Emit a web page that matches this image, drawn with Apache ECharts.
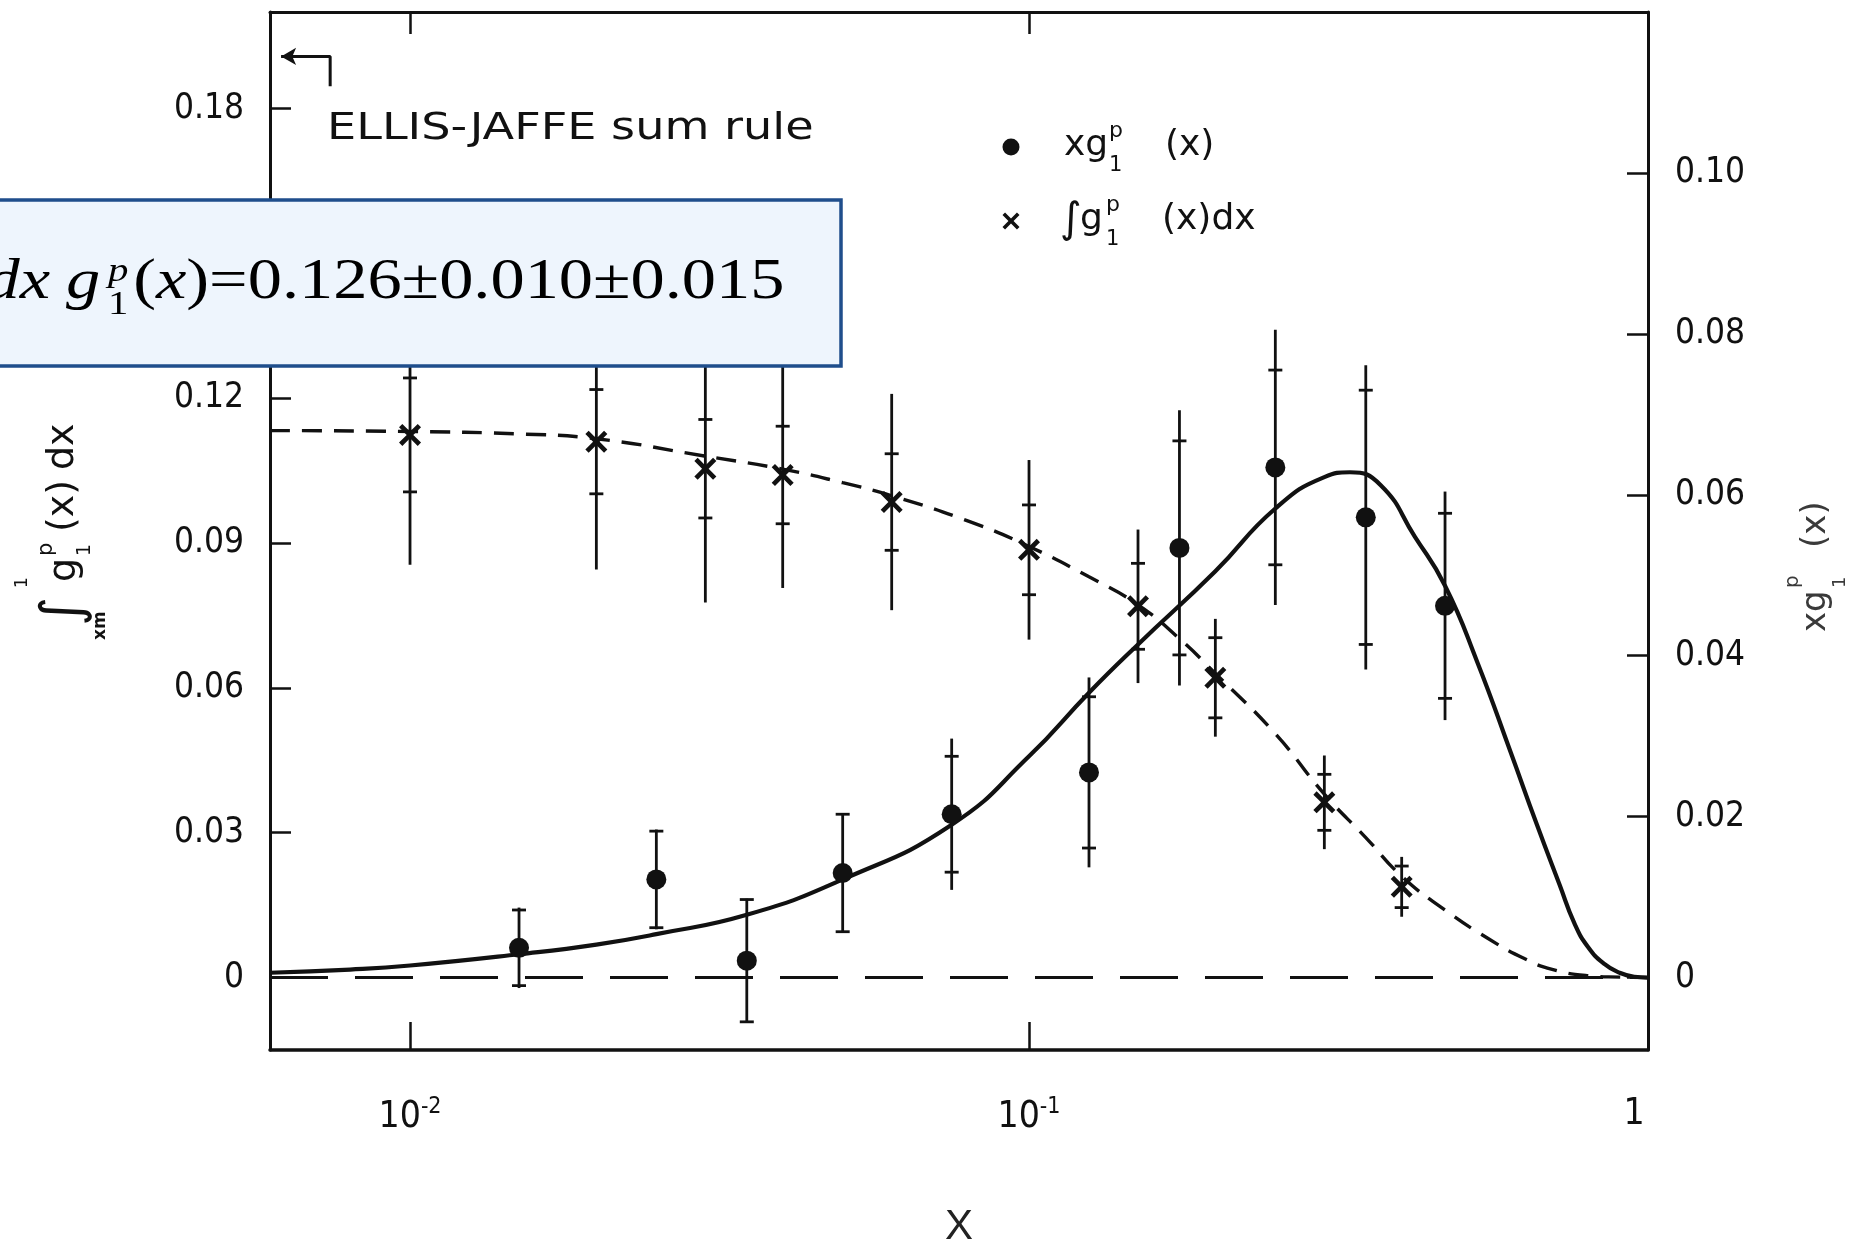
<!DOCTYPE html>
<html><head><meta charset="utf-8">
<script src="https://cdn.jsdelivr.net/npm/echarts@6/dist/echarts.min.js"></script>
<style>html,body{margin:0;padding:0;background:#fff;}#chart{width:1863px;height:1246px;}</style>
</head><body><div id="chart"></div>
<script>
// ---------- axis ranges ----------
const X_MIN = 0.00594, X_MAX = 1;
const LEFT_MIN = -0.015, LEFT_MAX = 0.2;
const RIGHT_MIN = -0.009, RIGHT_MAX = 0.12;
const leftTicks = [0, 0.03, 0.06, 0.09, 0.12, 0.15, 0.18];
const rightTicks = [0, 0.02, 0.04, 0.06, 0.08, 0.10];

// ---------- x g1p(x) data points (right axis) ----------
const xgX    = [0.015, 0.025, 0.035, 0.05, 0.075, 0.125, 0.175, 0.25, 0.35, 0.47];
const xgVal  = [0.0037, 0.0122, 0.0021, 0.0130, 0.0203, 0.0255, 0.0534, 0.0634, 0.0572, 0.0462];
const xgStat = [0.0047, 0.0060, 0.0076, 0.0073, 0.0072, 0.0094, 0.0133, 0.0121, 0.0158, 0.0115];
const xgTot  = [0.0050, 0.0062, 0.0077, 0.0074, 0.0094, 0.0118, 0.0171, 0.0171, 0.0189, 0.0142];

// ---------- integral data points (left axis) ----------
const intX    = [0.01, 0.02, 0.03, 0.04, 0.06, 0.1, 0.15, 0.2, 0.3, 0.4];
const intVal  = [0.1124, 0.1110, 0.1054, 0.1041, 0.0985, 0.0886, 0.0769, 0.0621, 0.0363, 0.0188];
const intStat = [0.0118, 0.0108, 0.0102, 0.0101, 0.0100, 0.0093, 0.0089, 0.0083, 0.0058, 0.0043];
const intTot  = [0.0269, 0.0265, 0.0277, 0.0234, 0.0224, 0.0186, 0.0159, 0.0122, 0.0097, 0.0062];

// ---------- fit curve x g1p(x) (solid, right axis) ----------
const fitX = [0.00594, 0.008, 0.01, 0.015, 0.02, 0.025, 0.035, 0.05, 0.075, 0.1, 0.125, 0.15, 0.2, 0.25, 0.3, 0.33, 0.37, 0.42, 0.47, 0.53, 0.6, 0.66, 0.72, 0.76, 0.8, 0.85, 0.9, 0.95, 1.0];
const fitY = [0.0006, 0.0010, 0.0015, 0.0029, 0.0041, 0.0054, 0.0078, 0.0122, 0.0190, 0.0275, 0.0354, 0.0414, 0.0505, 0.0583, 0.0622, 0.0628, 0.0612, 0.0548, 0.0487, 0.0392, 0.0280, 0.0192, 0.0115, 0.0068, 0.0038, 0.0017, 0.0006, 0.0001, 0.0];

// ---------- integral curve (short dashes, left axis) ----------
const intCurveX = [0.00594, 0.01, 0.015, 0.02, 0.03, 0.04, 0.05, 0.06, 0.08, 0.1, 0.125, 0.15, 0.175, 0.2, 0.25, 0.3, 0.35, 0.4, 0.47, 0.55, 0.63, 0.7, 0.8, 0.9, 1.0];
const intCurveY = [0.1133, 0.1131, 0.1126, 0.1116, 0.1080, 0.1053, 0.1025, 0.0998, 0.0945, 0.0893, 0.0830, 0.0772, 0.0702, 0.0630, 0.0505, 0.0380, 0.0290, 0.0210, 0.0140, 0.0082, 0.0040, 0.0017, 0.0004, 0.0001, 0.0];

// ---------- Ellis-Jaffe arrow annotation (left axis units) ----------
const ejArrowX = [0.00619, 0.00743, 0.00743];
const ejArrowY = [0.1908, 0.1908, 0.1846];

const INK = '#111';
const FONT_TICK = "'DejaVu Sans Condensed', 'DejaVu Sans', sans-serif";
const FONT_TXT = "'DejaVu Sans', sans-serif";
const SERIF = "'Liberation Serif', 'Times New Roman', serif";
const CROSS = 'path://M0,3 L3,0 L10,7 L17,0 L20,3 L13,10 L20,17 L17,20 L10,13 L3,20 L0,17 L7,10 Z';
const crossPts = (cx, cy, s) => [[0,3],[3,0],[10,7],[17,0],[20,3],[13,10],[20,17],[17,20],[10,13],[3,20],[0,17],[7,10]]
  .map(p => [cx + (p[0] - 10) * s / 20, cy + (p[1] - 10) * s / 20]);

const zip = (a, b) => a.map((v, i) => [v, b[i]]);

function errorSeries(xs, vals, stat, tot, yAxisIndex) {
  return {
    type: 'custom', yAxisIndex: yAxisIndex, xAxisIndex: 0, z: 3, silent: true,
    dimensions: ['x', 'v', 's', 't'],
    encode: { x: 0, y: 1 },
    data: xs.map((x, i) => [x, vals[i], stat[i], tot[i]]),
    renderItem: function (params, api) {
      const x = api.value(0), v = api.value(1), s = api.value(2), t = api.value(3);
      const top = api.coord([x, v + t]), bot = api.coord([x, v - t]);
      const sT = api.coord([x, v + s]), sB = api.coord([x, v - s]);
      const c = 7;
      const st = { stroke: INK, lineWidth: 2.8 };
      return { type: 'group', children: [
        { type: 'line', shape: { x1: top[0], y1: top[1], x2: bot[0], y2: bot[1] }, style: st },
        { type: 'line', shape: { x1: sT[0] - c, y1: sT[1], x2: sT[0] + c, y2: sT[1] }, style: st },
        { type: 'line', shape: { x1: sB[0] - c, y1: sB[1], x2: sB[0] + c, y2: sB[1] }, style: st }
      ]};
    }
  };
}

function txt(x, y, text, size, opt, z) {
  opt = opt || {};
  const el = { type: 'text', x: x, y: y, style: Object.assign({
    text: text, fontSize: size, fontFamily: FONT_TXT, fill: INK,
    align: 'left', verticalAlign: 'middle'
  }, opt) };
  if (z != null) el.z = z;
  return el;
}

const chart = echarts.init(document.getElementById('chart'), null, { renderer: 'canvas' });

const xLabelFmt = function (v) {
  const e = Math.round(Math.log10(v));
  if (e === 0) return '{one|1}';
  return '{b|10}{s|' + e + '}';
};

const option = {
  animation: false,
  backgroundColor: '#fff',
  grid: { left: 270, right: 215, top: 12, bottom: 196, containLabel: false, outerBoundsMode: 'none' },
  xAxis: [
    {
      type: 'log', logBase: 10, min: X_MIN, max: X_MAX, position: 'bottom',
      axisLine: { show: true, onZero: false, lineStyle: { color: INK, width: 3.5 } },
      axisTick: { show: true, inside: true, length: 28, lineStyle: { color: INK, width: 2.5 } },
      minorTick: { show: false },
      splitLine: { show: false },
      axisLabel: {
        show: true, margin: 46, showMinLabel: false, showMaxLabel: true,
        formatter: xLabelFmt, color: INK,
        rich: {
          b: { fontSize: 37, fontFamily: FONT_TICK, color: INK },
          s: { fontSize: 23, fontFamily: FONT_TICK, color: INK, verticalAlign: 'top', padding: [0, 0, 20, 0] },
          one: { fontSize: 37, fontFamily: FONT_TICK, color: INK, padding: [0, 28, 0, 0] }
        }
      },
      name: 'X', nameLocation: 'middle', nameGap: 156, nameMoveOverlap: false,
      nameTextStyle: { fontFamily: "'Liberation Sans', Arial, sans-serif", fontSize: 42, color: '#222' }
    },
    {
      type: 'log', logBase: 10, min: X_MIN, max: X_MAX, position: 'top',
      axisLine: { show: true, onZero: false, lineStyle: { color: INK, width: 3 } },
      axisTick: { show: true, inside: true, length: 22, lineStyle: { color: INK, width: 2.5 } },
      axisLabel: { show: false }, splitLine: { show: false }
    }
  ],
  yAxis: [
    {
      type: 'value', min: LEFT_MIN, max: LEFT_MAX, position: 'left',
      axisLine: { show: true, onZero: false, lineStyle: { color: INK, width: 3 } },
      axisTick: { show: true, inside: true, length: 21, customValues: leftTicks, lineStyle: { color: INK, width: 2.5 } },
      axisLabel: { show: true, customValues: leftTicks, margin: 26, fontSize: 35, fontFamily: FONT_TICK, color: INK,
        formatter: v => (Math.abs(v) < 1e-9 ? '0' : v.toFixed(2)) },
      splitLine: { show: false }
    },
    {
      type: 'value', min: RIGHT_MIN, max: RIGHT_MAX, position: 'right',
      axisLine: { show: true, onZero: false, lineStyle: { color: INK, width: 3 } },
      axisTick: { show: true, inside: true, length: 21, customValues: rightTicks, lineStyle: { color: INK, width: 2.5 } },
      axisLabel: { show: true, customValues: rightTicks, margin: 27, fontSize: 35, fontFamily: FONT_TICK, color: INK,
        formatter: v => (Math.abs(v) < 1e-9 ? '0' : v.toFixed(2)) },
      splitLine: { show: false }
    }
  ],
  series: [
    { // zero reference line
      type: 'line', yAxisIndex: 0, xAxisIndex: 0, silent: true, showSymbol: false, symbol: 'none', z: 1,
      data: [[X_MIN, 0], [X_MAX, 0]],
      lineStyle: { color: INK, width: 3, type: [58, 27] }
    },
    { // fit curve x g1
      name: 'fit', type: 'line', yAxisIndex: 1, xAxisIndex: 0, silent: true, symbol: 'none', z: 2,
      smooth: 0.5,
      data: zip(fitX, fitY),
      lineStyle: { color: INK, width: 4.2 }
    },
    { // integral curve
      name: 'intcurve', type: 'line', yAxisIndex: 0, xAxisIndex: 0, silent: true, symbol: 'none', z: 2,
      smooth: 0.5,
      data: zip(intCurveX, intCurveY),
      lineStyle: { color: INK, width: 3.4, type: [20, 12] }
    },
    errorSeries(xgX, xgVal, xgStat, xgTot, 1),
    errorSeries(intX, intVal, intStat, intTot, 0),
    {
      name: 'xg1p', type: 'scatter', yAxisIndex: 1, xAxisIndex: 0, symbol: 'circle', symbolSize: 20, z: 4,
      data: zip(xgX, xgVal), itemStyle: { color: INK, opacity: 1 }
    },
    {
      name: 'int', type: 'scatter', yAxisIndex: 0, xAxisIndex: 0, symbol: CROSS, symbolSize: 22, z: 4,
      data: zip(intX, intVal), itemStyle: { color: INK, opacity: 1 }
    },
    { // Ellis-Jaffe arrow
      type: 'line', yAxisIndex: 0, xAxisIndex: 0, silent: true, z: 4, clip: false,
      data: ejArrowX.map((x, i) => i === 0
        ? { value: [x, ejArrowY[i]], symbol: 'arrow', symbolSize: [13, 15], symbolRotate: 90 }
        : { value: [x, ejArrowY[i]], symbol: 'none' }),
      showSymbol: true, showAllSymbol: true,
      lineStyle: { color: INK, width: 3 }, itemStyle: { color: INK, opacity: 1 }
    }
  ],
  graphic: [
    // Ellis-Jaffe label
    { type: 'group', x: 327, y: 129, scaleX: 1.215, scaleY: 1, children: [
      txt(0, 0, 'ELLIS-JAFFE sum rule', 38)
    ]},
    // legend
    { type: 'group', x: 0, y: 0, children: [
      { type: 'circle', shape: { cx: 1011, cy: 147, r: 8.5 }, style: { fill: INK } },
      txt(1064, 146, 'xg', 36),
      txt(1109, 131, 'p', 22),
      txt(1109, 166, '1', 21),
      txt(1165, 146, '(x)', 36),
      { type: 'polygon', shape: { points: crossPts(1011, 221, 17) }, style: { fill: INK } },
      txt(1060, 221, '\u222B', 42),
      txt(1080, 220, 'g', 36),
      txt(1106, 205, 'p', 22),
      txt(1106, 240, '1', 21),
      txt(1162, 220, '(x)dx', 36)
    ]},
    // left axis name (rotated)
    { type: 'group', x: 80, y: 640, rotation: Math.PI / 2, children: [
      txt(0, 21, 'xm', 17, { fontWeight: 'bold' }),
      txt(14, -15, '\u222B', 56),
      txt(52, -57, '1', 17),
      txt(58, -15, 'g', 38),
      txt(84, -33, 'p', 21),
      txt(84, 5, '1', 19),
      txt(108, -17, '(x)', 38),
      txt(170, -17, 'dx', 38)
    ]},
    // right axis name (rotated)
    { type: 'group', x: 1830, y: 632, rotation: Math.PI / 2, children: [
      txt(0, -14, 'xg', 34, { fill: '#3a3a3a' }),
      txt(44, -37, 'p', 20, { fill: '#3a3a3a' }),
      txt(44, 10, '1', 18, { fill: '#3a3a3a' }),
      txt(84, -14, '(x)', 34, { fill: '#3a3a3a' })
    ]},
    // highlighted result box
    { type: 'rect', z: 100, shape: { x: -10, y: 200, width: 851, height: 166 },
      style: { fill: '#EEF5FD', stroke: '#1F4E8C', lineWidth: 3.5 } },
    { type: 'group', x: 0, y: 283, scaleX: 1.2, scaleY: 1, children: [
      txt(-12, 0, 'dx', 57, { fontFamily: SERIF, fontStyle: 'italic', fill: '#000' }, 101),
      txt(55, 0, 'g', 57, { fontFamily: SERIF, fontStyle: 'italic', fill: '#000' }, 101),
      txt(90, -11, 'p', 34, { fontFamily: SERIF, fontStyle: 'italic', fill: '#000' }, 101),
      txt(90, 22, '1', 34, { fontFamily: SERIF, fill: '#000' }, 101),
      { type: 'text', z: 101, x: 111, y: 0, style: {
        text: '{r|(}{i|x}{r|)=0.126\u00B10.010\u00B10.015}',
        verticalAlign: 'middle', align: 'left',
        rich: {
          r: { fontSize: 57, fontFamily: SERIF, fill: '#000' },
          i: { fontSize: 57, fontFamily: SERIF, fontStyle: 'italic', fill: '#000' }
        } } }
    ]}
  ]
};
chart.setOption(option);
</script>
</body></html>
